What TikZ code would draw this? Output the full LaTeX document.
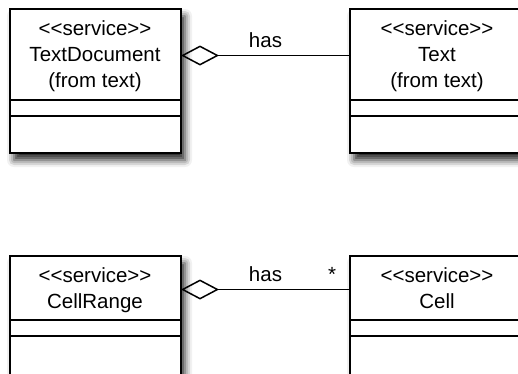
\documentclass[tikz,border=0pt]{standalone}
\usepackage{fontspec}
\setmainfont{Liberation Sans}[Ligatures=TeXOff]
\usetikzlibrary{arrows.meta,shadows.blur}

\begin{document}
\begin{tikzpicture}[x=1pt,y=-1pt,
  classbox/.style={draw=black, line width=1.8pt, fill=white,
    minimum width=171pt, minimum height=144pt, anchor=north west,
    inner sep=0pt, outer sep=0pt,
    blur shadow={shadow xshift=4pt, shadow yshift=-7pt,
      shadow blur radius=7pt, shadow opacity=85}},
  classtext/.style={anchor=base, inner sep=0pt,
    font=\fontsize{20.5pt}{24pt}\selectfont},
  divider/.style={line width=1.3pt},
  assoc/.style={line width=1.3pt,
    {Diamond[open,length=38pt,width=20pt,line width=1.5pt]}-},
  lbl/.style={anchor=base, inner sep=0pt,
    font=\fontsize{20.5pt}{24pt}\selectfont}
]
\useasboundingbox (0,0) rectangle (518,373);

% class boxes
\node[classbox] (td) at (10,9) {};
\node[classbox] (tx) at (350,9) {};
\node[classbox] (cr) at (10,256) {};
\node[classbox] (ce) at (350,256) {};

% compartment dividers
\foreach \b/\ya/\yb in {td/91/107, tx/91/107, cr/64/80, ce/64/80}{
  \draw[divider] ([yshift=-\ya pt]\b.north west) -- ([yshift=-\ya pt]\b.north east);
  \draw[divider] ([yshift=-\yb pt]\b.north west) -- ([yshift=-\yb pt]\b.north east);
}

% class names
\node[classtext] (td1) at ([xshift=85pt,yshift=-26pt]td.north west) {<<service>>};
\node[classtext] (td2) at ([xshift=85pt,yshift=-52.5pt]td.north west) {TextDocument};
\node[classtext] (td3) at ([xshift=85pt,yshift=-78.5pt]td.north west) {(from text)};

\node[classtext] (tx1) at ([xshift=87pt,yshift=-26pt]tx.north west) {<<service>>};
\node[classtext] (tx2) at ([xshift=87pt,yshift=-52.5pt]tx.north west) {Text};
\node[classtext] (tx3) at ([xshift=87pt,yshift=-78.5pt]tx.north west) {(from text)};

\node[classtext] (cr1) at ([xshift=85pt,yshift=-26pt]cr.north west) {<<service>>};
\node[classtext] (cr2) at ([xshift=85pt,yshift=-52.5pt]cr.north west) {CellRange};

\node[classtext] (ce1) at ([xshift=87pt,yshift=-26pt]ce.north west) {<<service>>};
\node[classtext] (ce2) at ([xshift=87pt,yshift=-52.5pt]ce.north west) {Cell};

% aggregations
\coordinate (tdhook) at ([yshift=-46.5pt]td.north east);
\coordinate (crhook) at ([yshift=-33.5pt]cr.north east);
\draw[assoc] (tdhook) -- (tdhook -| tx.west)
  node[lbl, pos=0.5, yshift=8pt] (tdhas) {has};
\draw[assoc] (crhook) -- (crhook -| ce.west)
  node[lbl, pos=0.5, yshift=8pt] (crhas) {has}
  node[lbl, pos=1, xshift=-18pt, yshift=8pt] (cemult) {*};
\end{tikzpicture}
\end{document}
